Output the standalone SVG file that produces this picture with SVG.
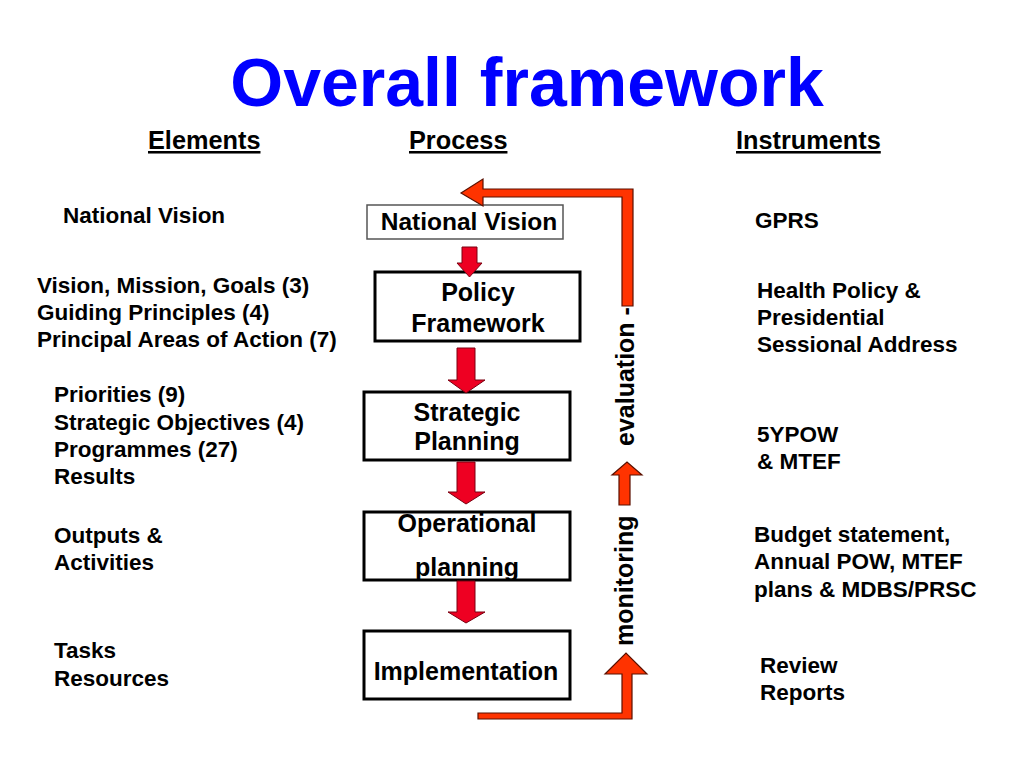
<svg xmlns="http://www.w3.org/2000/svg" width="1024" height="768" viewBox="0 0 1024 768">
<style>
text{font-family:"Liberation Sans",Arial,sans-serif;font-weight:bold;fill:#000}
.title{font-size:68px;fill:#0000FF;text-anchor:middle}
.hdr{font-size:25.3px;text-decoration:underline}
.body{font-size:22.5px}
.box{fill:#fff;stroke:#000;stroke-width:3}
.boxt{font-size:25px;text-anchor:middle}
.rot{font-size:25px}
.down{fill:#EE0022;stroke:#7a0010;stroke-width:1}
.fb{fill:#FF3300;stroke:#5a1000;stroke-width:1.2}
</style>
<rect width="1024" height="768" fill="#fff"/>
<text class="title" x="527" y="106">Overall framework</text>
<text class="hdr" x="148" y="149">Elements</text>
<text class="hdr" x="409" y="149">Process</text>
<text class="hdr" x="736" y="149">Instruments</text>

<g id="elements">
<text class="body" x="63" y="223">National Vision</text>
<text class="body" x="37" y="293">Vision, Mission, Goals (3)</text>
<text class="body" x="37" y="320">Guiding Principles (4)</text>
<text class="body" x="37" y="347">Principal Areas of Action (7)</text>
<text class="body" x="54" y="402">Priorities (9)</text>
<text class="body" x="54" y="430">Strategic Objectives (4)</text>
<text class="body" x="54" y="457">Programmes (27)</text>
<text class="body" x="54" y="484">Results</text>
<text class="body" x="54" y="543">Outputs &amp;</text>
<text class="body" x="54" y="570">Activities</text>
<text class="body" x="54" y="658">Tasks</text>
<text class="body" x="54" y="686">Resources</text>
</g>

<g id="instruments">
<text class="body" x="755" y="228">GPRS</text>
<text class="body" x="757" y="298">Health Policy &amp;</text>
<text class="body" x="757" y="325">Presidential</text>
<text class="body" x="757" y="352">Sessional Address</text>
<text class="body" x="757" y="442">5YPOW</text>
<text class="body" x="757" y="469">&amp; MTEF</text>
<text class="body" x="754" y="542">Budget statement,</text>
<text class="body" x="754" y="569">Annual POW, MTEF</text>
<text class="body" x="754" y="597">plans &amp; MDBS/PRSC</text>
<text class="body" x="760" y="673">Review</text>
<text class="body" x="760" y="700">Reports</text>
</g>

<g id="node-national-vision">
<rect x="367" y="205" width="196" height="34" fill="#fff" stroke="#555" stroke-width="1.5"/>
<text class="boxt" x="469" y="230" style="font-size:24.5px">National Vision</text>
</g>
<g id="node-policy">
<rect class="box" x="375" y="272" width="205" height="69"/>
<text class="boxt" x="478" y="301">Policy</text>
<text class="boxt" x="478" y="332">Framework</text>
</g>
<g id="node-strategic">
<rect class="box" x="364" y="392" width="206" height="68"/>
<text class="boxt" x="467" y="421">Strategic</text>
<text class="boxt" x="467" y="450">Planning</text>
</g>
<g id="node-operational">
<rect class="box" x="364" y="512" width="206" height="68"/>
<text class="boxt" x="467" y="532">Operational</text>
<text class="boxt" x="467" y="576">planning</text>
</g>
<g id="node-implementation">
<rect class="box" x="364" y="631" width="206" height="68"/>
<text class="boxt" x="466" y="680">Implementation</text>
</g>

<g id="connectors">
<polygon class="down" points="462,247 477,247 477,263 482,263 469.5,277 457,263 462,263"/>
<polygon class="down" points="457,348 475,348 475,380 485,380 466,393 448,380 457,380"/>
<polygon class="down" points="457,462 475,462 475,492 485,492 466,504 448,492 457,492"/>
<polygon class="down" points="457,581 475,581 475,612 485,612 466,623 448,612 457,612"/>
<polygon class="fb" points="478,713 622,713 622,674 605,674 626,653 647,674 632,674 632,719 478,719"/>
<polygon class="fb" points="619,505 630,505 630,475 642,475 627,462 612,475 619,475"/>
<polygon class="fb" points="461,193 483,179 483,189 633,189 633,306 622,306 622,197 483,197 483,206"/>
<text class="rot" transform="translate(634,446) rotate(-90)">evaluation -</text>
<text class="rot" transform="translate(633,646) rotate(-90)">monitoring</text>
</g>
</svg>
